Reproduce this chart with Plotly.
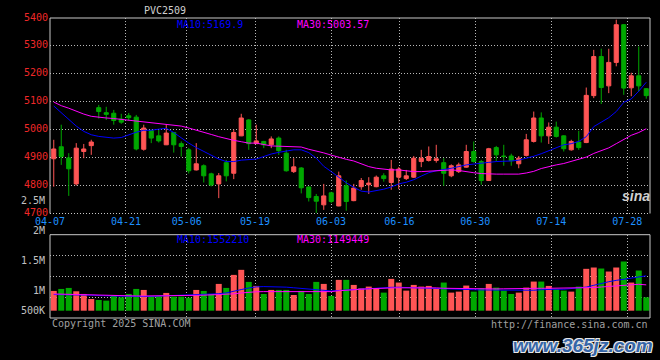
import plotly.graph_objects as go

# ---------------- data ----------------
idx = list(range(80))
tick_idx = [0, 10, 18, 27, 37, 46, 56, 66, 76]
tick_labels = ["04-07", "04-21", "05-06", "05-19", "06-03", "06-16", "06-30", "07-14", "07-28"]

opens = [4896, 4939, 4899, 4806, 4922, 4943, 5079, 5061, 5059, 5038,
         5050, 5045, 4930, 4997, 4978, 4946, 4990, 4950, 4928, 4856,
         4871, 4842, 4806, 4882, 4844, 4978, 5035, 4950, 4958, 4946,
         4970, 4916, 4850, 4863, 4795, 4761, 4731, 4774, 4727, 4799,
         4746, 4796, 4803, 4796, 4835, 4811, 4830, 4825, 4830, 4886,
         4890, 4890, 4882, 4835, 4850, 4866, 4922, 4886, 4818, 4936,
         4906, 4906, 4878, 4908, 4958, 5042, 4978, 5009, 4978, 4928,
         4956, 4954, 5122, 5262, 5157, 5241, 5376, 5150, 5193, 5147]
highs = [4964, 5018, 4916, 4952, 4949, 4964, 5089, 5082, 5071, 5057,
         5060, 5053, 5018, 5000, 4999, 5020, 4992, 4958, 4935, 4952,
         4876, 4846, 4845, 4892, 5000, 5057, 5038, 5018, 4960, 4976,
         4976, 4928, 4898, 4866, 4797, 4770, 4806, 4778, 4850, 4818,
         4806, 4827, 4830, 4836, 4844, 4892, 4866, 4856, 4906, 4928,
         4940, 4946, 4898, 4876, 4882, 4946, 4958, 4892, 4935, 4942,
         4946, 4914, 4906, 4985, 5065, 5062, 5026, 5029, 4980, 4964,
         4996, 5151, 5286, 5290, 5290, 5394, 5378, 5204, 5298, 5149]
lows = [4796, 4874, 4763, 4800, 4898, 4910, 5040, 5035, 5018, 5021,
        5033, 4926, 4925, 4952, 4954, 4945, 4918, 4904, 4843, 4854,
        4811, 4797, 4755, 4815, 4823, 4977, 4928, 4949, 4934, 4934,
        4910, 4850, 4845, 4772, 4743, 4702, 4713, 4737, 4726, 4710,
        4744, 4785, 4770, 4794, 4814, 4785, 4787, 4820, 4827, 4866,
        4886, 4882, 4799, 4830, 4845, 4864, 4882, 4803, 4817, 4886,
        4871, 4871, 4862, 4904, 4954, 4954, 4949, 4972, 4922, 4925,
        4928, 4952, 5113, 5092, 5131, 5227, 5125, 5120, 5137, 5111]
closes = [4931, 4904, 4860, 4934, 4931, 4956, 5065, 5055, 5033, 5027,
          5043, 4931, 5006, 4970, 4960, 4988, 4946, 4940, 4853, 4878,
          4835, 4802, 4835, 4835, 4990, 5042, 4950, 4960, 4946, 4967,
          4925, 4853, 4867, 4792, 4757, 4744, 4763, 4743, 4835, 4743,
          4791, 4818, 4809, 4830, 4825, 4859, 4859, 4835, 4898, 4898,
          4904, 4896, 4844, 4871, 4874, 4922, 4886, 4818, 4932, 4910,
          4904, 4889, 4898, 4964, 5042, 4978, 5009, 4976, 4932, 4958,
          4936, 5123, 5262, 5151, 5241, 5376, 5149, 5193, 5157, 5122]

ma10 = [5085, 5062, 5036, 5013, 4994, 4982, 4976, 4974, 4970, 4972,
        4982, 4991, 4998, 4998, 5002, 5005, 4990, 4970, 4952, 4936,
        4922, 4910, 4895, 4886, 4886, 4891, 4892, 4895, 4904, 4913,
        4919, 4924, 4928, 4928, 4918, 4898, 4869, 4850, 4830, 4810,
        4794, 4780, 4777, 4781, 4787, 4795, 4806, 4812, 4821, 4834,
        4846, 4853, 4857, 4862, 4868, 4874, 4877, 4881, 4883, 4886,
        4886, 4888, 4891, 4897, 4905, 4914, 4924, 4936, 4946, 4950,
        4958, 4975, 5011, 5027, 5043, 5065, 5098, 5110, 5138, 5169.9]
ma30 = [5099, 5086, 5077, 5066, 5056, 5048, 5044, 5042, 5040, 5037,
        5036, 5031, 5028, 5026, 5023, 5019, 5016, 5013, 5006, 4999,
        4991, 4983, 4975, 4968, 4962, 4957, 4952, 4952, 4947, 4942,
        4941, 4940, 4940, 4938, 4930, 4924, 4917, 4909, 4901, 4894,
        4888, 4877, 4868, 4862, 4858, 4856, 4856, 4853, 4850, 4850,
        4852, 4854, 4855, 4856, 4854, 4849, 4846, 4843, 4841, 4841,
        4841, 4841, 4841, 4845, 4851, 4861, 4868, 4874, 4879, 4887,
        4894, 4902, 4915, 4926, 4935, 4950, 4964, 4980, 4990, 5003.57]

volumes = [879, 968, 1013, 864, 745, 521, 477, 447, 656, 596,
           745, 968, 924, 656, 656, 790, 626, 626, 581, 924,
           879, 745, 1192, 1013, 1594, 1818, 1281, 1103, 745, 924,
           924, 924, 700, 879, 745, 1281, 1192, 656, 1371, 1371,
           1147, 998, 1073, 998, 805, 1416, 1252, 894, 1147, 1073,
           1103, 998, 1252, 805, 849, 1118, 849, 998, 1192, 1028,
           894, 745, 805, 1028, 1296, 1296, 1103, 954, 894, 849,
           1073, 1863, 1922, 1877, 1743, 1922, 2190, 1252, 1788, 596]
vol_ma10 = [720, 720, 715, 710, 700, 690, 672, 662, 650, 638,
            630, 626, 630, 638, 648, 656, 665, 680, 695, 710,
            720, 738, 755, 790, 880, 940, 1010, 1060, 1073, 1073,
            1065, 1048, 1020, 990, 960, 935, 895, 879, 900, 924,
            945, 965, 990, 1015, 1035, 1040, 1043, 1035, 1028, 1010,
            998, 998, 998, 990, 975, 955, 935, 924, 924, 924,
            910, 898, 894, 894, 910, 935, 954, 954, 954, 975,
            1000, 1050, 1130, 1220, 1290, 1350, 1400, 1480, 1530, 1552.21]
vol_ma30 = [745, 735, 725, 712, 700, 688, 672, 665, 660, 658,
            656, 656, 656, 656, 656, 656, 662, 670, 676, 684,
            690, 698, 712, 730, 750, 790, 830, 842, 849, 849,
            849, 849, 849, 849, 849, 849, 849, 849, 888, 920,
            940, 954, 975, 995, 1005, 1012, 1018, 1022, 1026, 1028,
            1028, 1015, 998, 990, 982, 975, 970, 968, 968, 968,
            975, 985, 992, 998, 998, 998, 998, 998, 998, 998,
            998, 1010, 1030, 1055, 1075, 1098, 1118, 1150, 1175, 1149.449]

title_text = "PVC2509"

# ---------------- styling ----------------
RED = "#ff5555"
GREEN = "#00a800"
MONO = "DejaVu Sans Mono"
GRID = "#b8b8b8"
BORDER = "#c8c8c8"
W, H = 660, 360
L, R, T, B = 50, 10, 18, 42
PW, PH = W - L - R, H - T - B


def pxx(x):
    return (x - L) / PW


def pxy(y):
    return (H - B - y) / PH


vols = [v * 1000 for v in volumes]
vma10 = [v * 1000 for v in vol_ma10]
vma30 = [v * 1000 for v in vol_ma30]
bar_colors = [RED if c >= o else GREEN for o, c in zip(opens, closes)]

n = len(idx)
tickvals = [k * n / (n - 1) - 0.5 for k in tick_idx]

VMIN, VMAX = -325000, 3382000
vgrid = [VMIN + q * (VMAX - VMIN) / 4 for q in (1, 2, 3)]

fig = go.Figure()
fig.add_trace(go.Candlestick(
    x=idx, open=opens, high=highs, low=lows, close=closes,
    increasing=dict(line=dict(color=RED, width=1), fillcolor=RED),
    decreasing=dict(line=dict(color=GREEN, width=1), fillcolor=GREEN),
    whiskerwidth=0, xaxis="x", yaxis="y", showlegend=False, hoverinfo="skip"))
fig.add_trace(go.Scatter(x=idx, y=ma10, mode="lines", line=dict(color="#0000ff", width=1),
                         xaxis="x", yaxis="y", showlegend=False, hoverinfo="skip"))
fig.add_trace(go.Scatter(x=idx, y=ma30, mode="lines", line=dict(color="#ff00ff", width=1),
                         xaxis="x", yaxis="y", showlegend=False, hoverinfo="skip"))

fig.add_trace(go.Bar(x=idx, y=vols, marker=dict(color=bar_colors, line=dict(width=0)), width=0.8,
                     xaxis="x2", yaxis="y2", showlegend=False, hoverinfo="skip"))
fig.add_trace(go.Scatter(x=idx, y=vma10, mode="lines", line=dict(color="#0000ff", width=1),
                         xaxis="x2", yaxis="y2", showlegend=False, hoverinfo="skip"))
fig.add_trace(go.Scatter(x=idx, y=vma30, mode="lines", line=dict(color="#ff00ff", width=1),
                         xaxis="x2", yaxis="y2", showlegend=False, hoverinfo="skip"))

axis_common = dict(showgrid=True, gridcolor=GRID, gridwidth=1, griddash="1px,2px",
                   zeroline=False, showline=False, ticks="")

fig.update_layout(
    width=W, height=H, margin=dict(l=L, r=R, t=T, b=B),
    paper_bgcolor="#000000", plot_bgcolor="#000000",
    boxgap=0.22, bargap=0.2, showlegend=False, hovermode=False,
    xaxis=dict(domain=[0, 1], anchor="y", range=[-0.5, n - 0.5],
               tickmode="array", tickvals=tickvals, ticktext=tick_labels,
               tickfont=dict(family=MONO, size=10, color="#1e90ff"),
               rangeslider=dict(visible=False), **axis_common),
    xaxis2=dict(domain=[0, 1], anchor="y2", matches="x", range=[-0.5, n - 0.5],
                tickmode="array", tickvals=tickvals, showticklabels=False, **axis_common),
    yaxis=dict(domain=[pxy(213.5), 1], anchor="x", range=[4700, 5400],
               tickmode="array", tickvals=[4700, 4800, 4900, 5000, 5100, 5200, 5300, 5400],
               tickfont=dict(family=MONO, size=10, color="#f02828"),
               ticklabelstandoff=1, ticklabelshift=-1, **axis_common),
    yaxis2=dict(domain=[0, pxy(234.7)], anchor="x2", range=[VMIN, VMAX],
                tickmode="array", tickvals=vgrid, showticklabels=False, **axis_common),
)

# panel borders
shapes = []
for (x0, y0, x1, y1) in [(0, 1, 1, 1), (0, 0, 0, 1), (1, 0, 1, 1)]:
    shapes.append(dict(type="line", xref="x domain", yref="y domain", x0=x0, y0=y0, x1=x1, y1=y1,
                       line=dict(color=BORDER, width=1)))
shapes.append(dict(type="line", xref="x domain", yref="y domain", x0=0, y0=0, x1=1, y1=0,
                   line=dict(color=BORDER, width=1, dash="1px,2px")))
shapes.append(dict(type="rect", xref="x2 domain", yref="y2 domain", x0=0, y0=0, x1=1, y1=1,
                   line=dict(color=BORDER, width=1)))
fig.update_layout(shapes=shapes)

ann = []


def text(x, y, s, color, xanchor="left", size=10, family=MONO, **kw):
    ann.append(dict(x=pxx(x), y=pxy(y), xref="paper", yref="paper", text=s, showarrow=False,
                    xanchor=xanchor, yanchor="middle", font=dict(family=family, size=size, color=color, **kw)))


text(141.5, 10.5, title_text, "#d0d0d0")
text(175, 24, f"MA10:{ma10[-1]:.1f}", "#0000ff")
text(295, 24, f"MA30:{ma30[-1]:.2f}", "#ff00ff")
text(175, 239, f"MA10:{round(vma10[-1])}", "#0000ff")
text(295, 239, f"MA30:{round(vma30[-1])}", "#ff00ff")
for lab, y in [("2.5M", 200.7), ("2M", 230.7), ("1.5M", 260.3), ("1M", 290.3), ("500K", 310.7)]:
    text(46.5, y, lab, "#c0c0c0", xanchor="right")
text(49.5, 323.8, "Copyright 2025 SINA.COM", "#a0a0a0")
text(649.5, 324, "http://finance.sina.com.cn", "#a0a0a0", xanchor="right")
text(636, 196, "<b><i>sina</i></b>", "#d0d0d0", xanchor="center", size=14, family="Liberation Sans")
ann.append(dict(x=pxx(655), y=pxy(345), xref="paper", yref="paper", text="<b><i>www.365jz.com</i></b>",
                showarrow=False, xanchor="right", yanchor="middle",
                font=dict(family="Liberation Sans", size=19, color="#3566a8",
                          shadow="1px 1px 0 #e8e8e8, -1px -1px 0 #e8e8e8, 1px -1px 0 #e8e8e8, -1px 1px 0 #e8e8e8")))
fig.update_layout(annotations=ann)

fig.write_html("out.html", config={"displayModeBar": False, "staticPlot": True},
               post_script="document.body.style.margin='0';document.body.style.background='#000';")
